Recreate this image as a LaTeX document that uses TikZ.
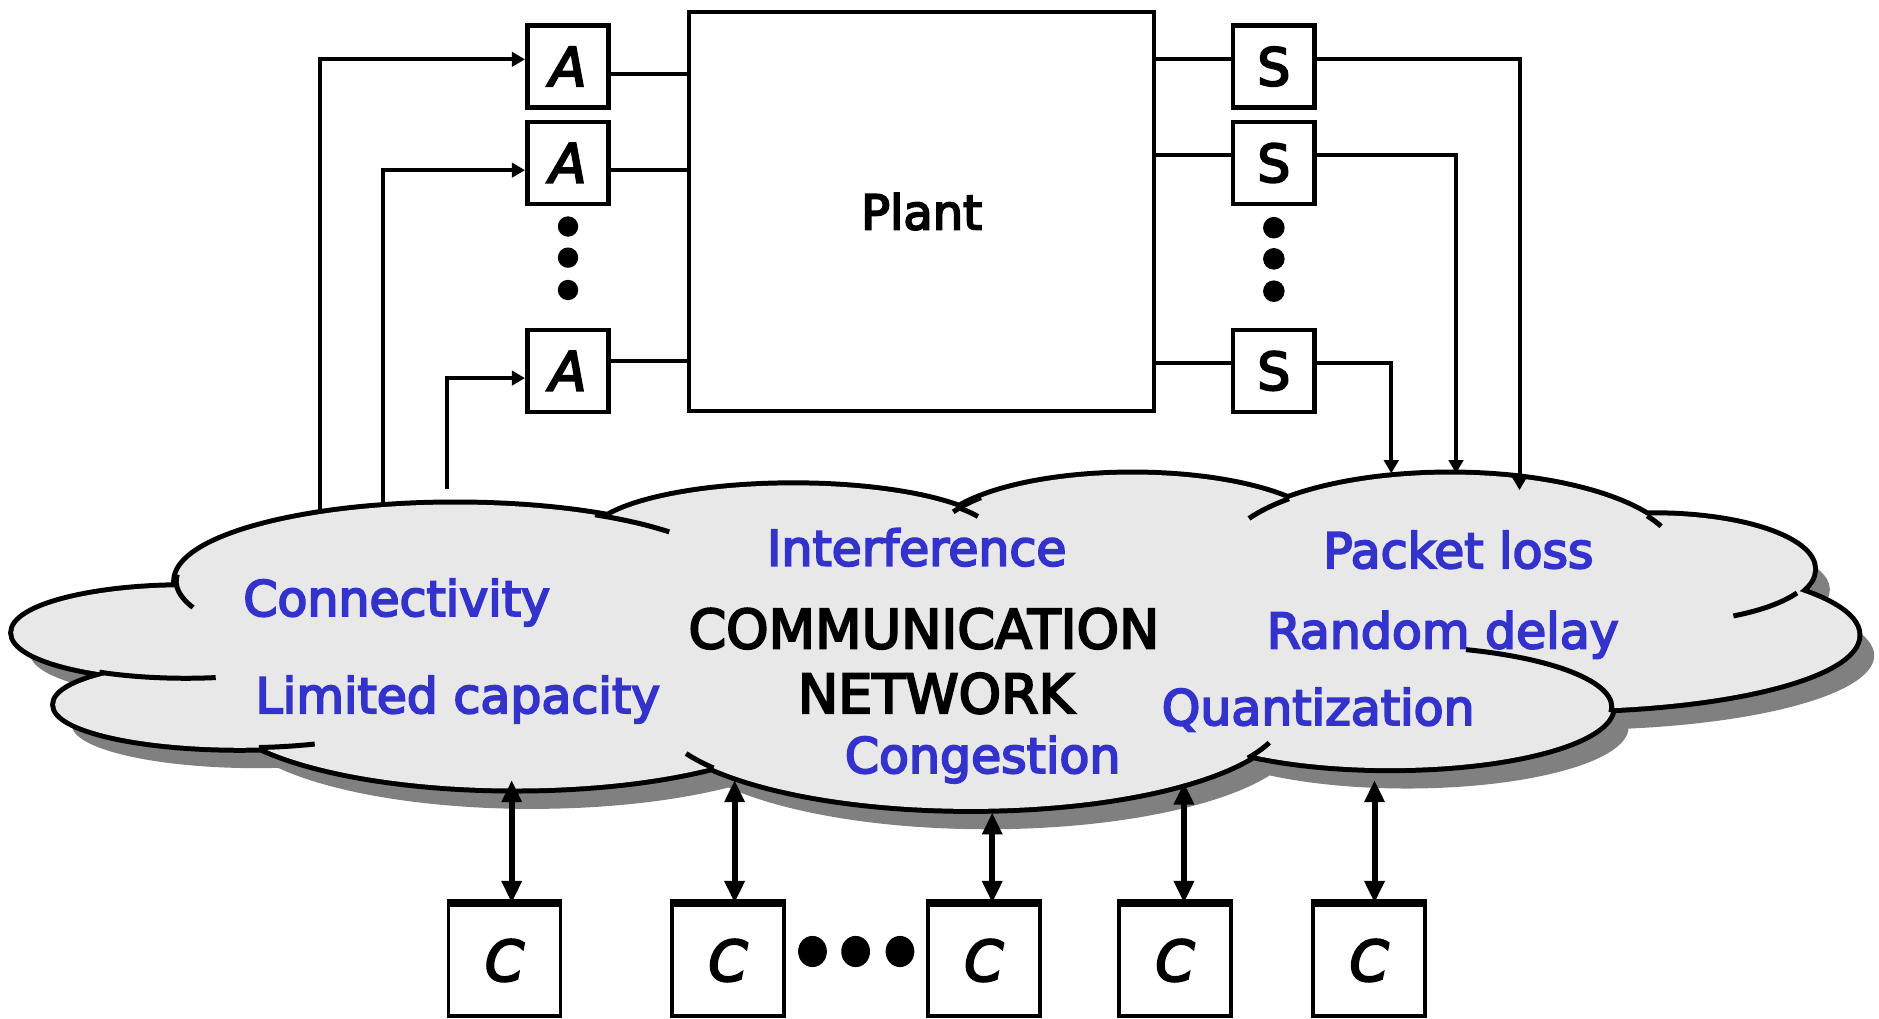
\documentclass[tikz,border=0pt]{standalone}
\usepackage{fontspec}
\setmainfont{DejaVu Sans}
\newfontfamily\comic{DejaVu Sans}[FakeBold=4]
\usetikzlibrary{arrows.meta,calc}
\definecolor{netblue}{RGB}{51,51,204}
\definecolor{cloudfill}{RGB}{232,232,232}
\definecolor{cloudshadow}{RGB}{128,128,128}
\tikzset{
  lobes/.style={insert path={
    (155,528) ellipse [x radius=144, y radius=38]
    (200,588) ellipse [x radius=154, y radius=36]
    (380,485) ellipse [x radius=233, y radius=64]
    (662,450) ellipse [x radius=170, y radius=45]
    (945,450) ellipse [x radius=165, y radius=54]
    (1210,465) ellipse [x radius=190, y radius=69]
    (1380,475) ellipse [x radius=133, y radius=45]
    (1300,530) ellipse [x radius=250, y radius=62]
    (1160,590) ellipse [x radius=185, y radius=51]
    (810,595) ellipse [x radius=262, y radius=80]
    (430,585) ellipse [x radius=250, y radius=73]
    (860,530) ellipse [x radius=560, y radius=95]
  }},
}
\begin{document}
\begin{tikzpicture}[x=0.6pt,y=-0.6pt,
  sbox/.style={draw, line width=2.3pt, minimum width=40.8pt, minimum height=41pt, inner sep=0pt},
  cbox/.style={draw, line width=1.8pt, minimum width=56pt, minimum height=55.8pt, inner sep=0pt, font=\comic\fontsize{28}{32}\selectfont\itshape},
  conn/.style={line width=2pt},
  arr/.style={conn, -{Triangle[length=6.6pt,width=7.2pt]}},
  biarr/.style={line width=3pt, {Triangle[length=11pt,width=9.6pt]}-{Triangle[length=11pt,width=9.6pt]}},
  issue/.style={text=netblue, font=\comic\fontsize{24.5}{30}\selectfont, anchor=base, inner sep=0pt},
  title/.style={text=black, font=\comic\fontsize{27}{32}\selectfont, anchor=base, inner sep=0pt},
  hook/.style={line width=2.5pt},
  dot/.style={fill=black}]
\useasboundingbox (0,0) rectangle (1568,850);

% plant, actuators, sensors
\node[draw, line width=2.4pt, minimum width=232.8pt, minimum height=199.8pt, font=\comic\fontsize{24}{28}\selectfont] (plant) at (769,176.5) {Plant};
\node[sbox, font=\comic\fontsize{27}{30}\selectfont\itshape] (a1) at (474,55.5) {A};
\node[sbox, font=\comic\fontsize{27}{30}\selectfont\itshape] (a2) at (474,136) {A};
\node[sbox, font=\comic\fontsize{27}{30}\selectfont\itshape] (a3) at (474,309.5) {A};
\node[sbox, font=\comic\fontsize{26}{30}\selectfont] (s1) at (1063,55.5) {S};
\node[sbox, font=\comic\fontsize{26}{30}\selectfont] (s2) at (1063,136) {S};
\node[sbox, font=\comic\fontsize{26}{30}\selectfont] (s3) at (1063,309.5) {S};

\fill[dot] (474,189) circle (8.5) (474,215) circle (8.5) (474,242) circle (8.5);
\fill[dot] (1063,190) circle (9) (1063,216) circle (9) (1063,243) circle (9);

% actuator to plant
\coordinate (ao1) at ($(a1.east)+(0,6.5)$);
\coordinate (ao2) at ($(a2.east)+(0,6)$);
\coordinate (ao3) at ($(a3.east)+(0,-8.5)$);
\draw[conn] (ao1) -- (ao1 -| plant.west);
\draw[conn] (ao2) -- (ao2 -| plant.west);
\draw[conn] (ao3) -- (ao3 -| plant.west);
% plant to sensors
\coordinate (si1) at ($(s1.west)+(0,-6)$);
\coordinate (si2) at ($(s2.west)+(0,-7)$);
\coordinate (si3) at ($(s3.west)+(0,-6.5)$);
\draw[conn] (si1 -| plant.east) -- (si1);
\draw[conn] (si2 -| plant.east) -- (si2);
\draw[conn] (si3 -| plant.east) -- (si3);

% network to actuators
\coordinate (in1) at (267,432);
\coordinate (in2) at (320,430);
\coordinate (in3) at (373,408);
\coordinate (ai1) at ($(a1.west)+(0,-6)$);
\coordinate (ai2) at ($(a2.west)+(0,6)$);
\coordinate (ai3) at ($(a3.west)+(0,6)$);
\draw[arr] (in1) |- (ai1);
\draw[arr] (in2) |- (ai2);
\draw[arr] (in3) |- (ai3);

% cloud
\fill[cloudshadow, shift={(14,17)}, lobes];
\draw[line width=5pt, lobes];
\fill[cloudfill, lobes];
\draw[hook] (155,528) ++(120:144 and 38) arc[start angle=120, end angle=80, x radius=144, y radius=38];
\draw[hook] (200,588) ++(84:154 and 36) arc[start angle=84, end angle=66, x radius=154, y radius=36];
\draw[hook] (380,485) ++(185:233 and 64) arc[start angle=185, end angle=160, x radius=233, y radius=64];
\draw[hook] (380,485) ++(-60:233 and 64) arc[start angle=-60, end angle=-40, x radius=233, y radius=64];
\draw[hook] (662,450) ++(-36:170 and 45) arc[start angle=-36, end angle=-25, x radius=170, y radius=45];
\draw[hook] (945,450) ++(220:165 and 54) arc[start angle=220, end angle=205, x radius=165, y radius=54];
\draw[hook] (1210,465) ++(225:190 and 69) arc[start angle=225, end angle=208, x radius=190, y radius=69];
\draw[hook] (1210,465) ++(-30:190 and 69) arc[start angle=-30, end angle=-22, x radius=190, y radius=69];
\draw[hook] (1380,475) ++(26:133 and 45) arc[start angle=26, end angle=60, x radius=133, y radius=45];
\draw[hook] (1160,590) ++(-70:185 and 51) arc[start angle=-70, end angle=5, x radius=185, y radius=51];
\draw[hook] (810,595) ++(28:262 and 80) arc[start angle=28, end angle=18, x radius=262, y radius=80];
\draw[hook] (810,595) ++(145:262 and 80) arc[start angle=145, end angle=155, x radius=262, y radius=80];

% cloud texts
\node[issue] (t-conn) at (331,514) {Connectivity};
\node[issue] (t-lim) at (382,595) {Limited capacity};
\node[issue] (t-int) at (765,472) {Interference};
\node[title] (t-comm) at (771,541) {COMMUNICATION};
\node[title] (t-net) at (781,595) {NETWORK};
\node[issue] (t-cong) at (820,645) {Congestion};
\node[issue] (t-pack) at (1217,474) {Packet loss};
\node[issue] (t-rand) at (1204,541) {Random delay};
\node[issue] (t-quant) at (1100,605) {Quantization};

% sensors to network
\coordinate (o1) at (1268,409);
\coordinate (o2) at (1215,395);
\coordinate (o3) at (1161,395);
\coordinate (so1) at ($(s1.east)+(0,-6)$);
\coordinate (so2) at ($(s2.east)+(0,-7)$);
\coordinate (so3) at ($(s3.east)+(0,-6.5)$);
\draw[arr] (so1) -| (o1);
\draw[arr] (so2) -| (o2);
\draw[arr] (so3) -| (o3);

% controllers
\node[cbox] (c1) at (421,801.5) {C};
\node[cbox] (c2) at (607.5,801.5) {C};
\node[cbox] (c3) at (821,801.5) {C};
\node[cbox] (c4) at (980.5,801.5) {C};
\node[cbox] (c5) at (1142.5,801.5) {C};
\foreach \c in {c1,c2,c3,c4,c5}{
  \draw[line width=3.6pt] (\c.north west) -- (\c.north east);
}
\fill[dot] (678,794) ellipse [x radius=12, y radius=13] (714,794) ellipse [x radius=12, y radius=13] (751,794) ellipse [x radius=12, y radius=13];

\coordinate (b1) at (427,651);
\coordinate (b2) at (613,651);
\coordinate (b3) at (828,678);
\coordinate (b4) at (988,653);
\coordinate (b5) at (1147,651);
\draw[biarr] (b1) -- (b1 |- c1.north);
\draw[biarr] (b2) -- (b2 |- c2.north);
\draw[biarr] (b3) -- (b3 |- c3.north);
\draw[biarr] (b4) -- (b4 |- c4.north);
\draw[biarr] (b5) -- (b5 |- c5.north);
\end{tikzpicture}
\end{document}
